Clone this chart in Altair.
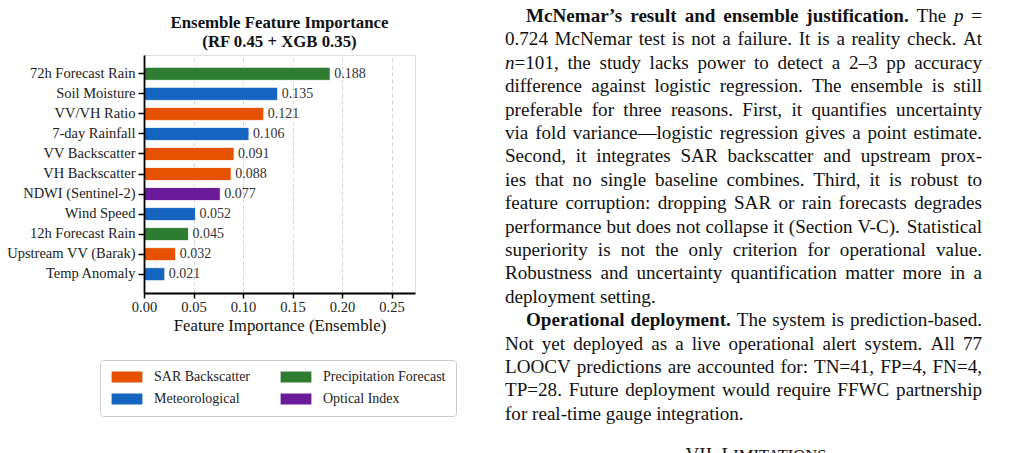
import altair as alt
import pandas as pd

SERIF = "Liberation Serif"

# ---------------------------------------------------------------- chart data
features = ["72h Forecast Rain", "Soil Moisture", "VV/VH Ratio", "7-day Rainfall",
            "VV Backscatter", "VH Backscatter", "NDWI (Sentinel-2)", "Wind Speed",
            "12h Forecast Rain", "Upstream VV (Barak)", "Temp Anomaly"]
importance = [0.188, 0.135, 0.121, 0.106, 0.091, 0.088, 0.077, 0.052, 0.045, 0.032, 0.021]
groups = ["Precipitation Forecast", "Meteorological", "SAR Backscatter", "Meteorological",
          "SAR Backscatter", "SAR Backscatter", "Optical Index", "Meteorological",
          "Precipitation Forecast", "SAR Backscatter", "Meteorological"]
# legend fills column by column
group_order = ["SAR Backscatter", "Meteorological", "Precipitation Forecast", "Optical Index"]
group_colors = ["#E65100", "#1565C0", "#2E7D32", "#6A1B9A"]
x_ticks = [0.0, 0.05, 0.10, 0.15, 0.20, 0.25]
x_max = 0.2737
chart_title = ["Ensemble Feature Importance", "(RF 0.45 + XGB 0.35)"]
x_title = "Feature Importance (Ensemble)"

# ---------------------------------------------------------------- body text
body_lines = [
    "**McNemar’s result and ensemble justification.** The _p_ =",
    "0.724 McNemar test is not a failure. It is a reality check. At",
    "_n_=101, the study lacks power to detect a 2–3 pp accuracy",
    "difference against logistic regression. The ensemble is still",
    "preferable for three reasons. First, it quantifies uncertainty",
    "via fold variance—logistic regression gives a point estimate.",
    "Second, it integrates SAR backscatter and upstream prox-",
    "ies that no single baseline combines. Third, it is robust to",
    "feature corruption: dropping SAR or rain forecasts degrades",
    "performance but does not collapse it (Section V-C). Statistical",
    "superiority is not the only criterion for operational value.",
    "Robustness and uncertainty quantification matter more in a",
    "deployment setting.",
    "**Operational deployment.** The system is prediction-based.",
    "Not yet deployed as a live operational alert system. All 77",
    "LOOCV predictions are accounted for: TN=41, FP=4, FN=4,",
    "TP=28. Future deployment would require FFWC partnership",
    "for real-time gauge integration.",
]
para_starts = [0, 13]
para_ends = [12, 17]
heading_parts = ["VII. L", "IMITATIONS"]

# ---------------------------------------------------------------- layout
PLOT_W, PLOT_H = 271, 238
PAD_L, PAD_T = 144, 55
TOTAL_W, TOTAL_H = 1015, 453

COL_LEFT, COL_RIGHT = 505.0, 982.0
INDENT = 21.0
FS = 19.1
BASE0 = 22.0
LEAD = 23.4
MIN_GAP = 3.0

TITLE_FS = 16.8
TITLE_BASES = [28.0, 46.5]


def _table(spec):
    t = {}
    for chars, w in spec:
        for c in chars:
            t[c] = w
    return t


# Times-compatible advance widths (per 1000 em)
ROMAN = _table([(" ,.", 250), (":;/ijlt", 278), ("!()-[]'’fIr", 333), ("Js", 389),
                ('"', 408), ("?acez", 444), ("0123456789#$*bdghknopquvxy–_", 500),
                ("FPS", 556), ("+<=>", 564), ("ELTZ", 611), ("BCR", 667),
                ("ADGHKNOQUVXYw", 722), ("&m", 778), ("%", 833), ("M", 889),
                ("W", 944), ("—", 1000)])
BOLD = _table([(" ,.", 250), ("il", 278), ("()-:;!fjt’", 333), ("sI", 389),
               ("cerz", 444), ("aogvxy0123456789J", 500), ("bdhknpquS", 556),
               ("=", 570), ("FP", 611), ("BELTZ", 667), ("ACDNRUVXYw", 722),
               ("GHKOQ", 778), ("m", 833), ("M", 944), ("W", 1000)])
ITALIC = _table([(" ,.", 250), ("il", 278), ("npabdghkquvxy", 500)])
TABLES = {"normal": ROMAN, "bold": BOLD, "italic": ITALIC}


def text_width(s, style, size=FS):
    t = TABLES[style]
    return sum(t.get(c, 500) for c in s) * size / 1000.0


def parse_words(line):
    bold = italic = False
    words = []
    for raw in line.split(" "):
        segs = []
        cur, cur_style = "", None
        i = 0
        while i < len(raw):
            if raw.startswith("**", i):
                bold = not bold
                i += 2
                continue
            if raw[i] == "_":
                italic = not italic
                i += 1
                continue
            style = "bold" if bold else ("italic" if italic else "normal")
            if style != cur_style and cur:
                segs.append((cur, cur_style))
                cur = ""
            cur_style = style
            cur += raw[i]
            i += 1
        if cur:
            segs.append((cur, cur_style))
        words.append(segs)
    return words


rows = []
for i, line in enumerate(body_lines):
    words = parse_words(line)
    widths = [sum(text_width(s, st) for s, st in w) for w in words]
    start = COL_LEFT + (INDENT if i in para_starts else 0.0)
    if i in para_ends:
        gap = text_width(" ", "normal")
    else:
        gap = max(MIN_GAP, (COL_RIGHT - start - sum(widths)) / (len(words) - 1))
    base = BASE0 + i * LEAD
    x = start
    for k, (w, ww) in enumerate(zip(words, widths)):
        last = (k == len(words) - 1) and (i not in para_ends)
        if last and len(w) == 1:
            rows.append(dict(x=COL_RIGHT - PAD_L, y=base - PAD_T, text=w[0][0],
                             style=w[0][1], align="right", fs=FS))
        else:
            sx = (COL_RIGHT - ww) if last else x
            for s, st in w:
                rows.append(dict(x=sx - PAD_L, y=base - PAD_T, text=s, style=st,
                                 align="left", fs=FS))
                sx += text_width(s, st)
        x += ww + gap

# section heading in small caps
head_sizes = [FS, 16.5]
head_w = [text_width(p, "normal", s) for p, s in zip(heading_parts, head_sizes)]
hx = 757.5 - sum(head_w) / 2
for p, s, w in zip(heading_parts, head_sizes, head_w):
    rows.append(dict(x=hx - PAD_L, y=461.0 - PAD_T, text=p, style="normal",
                     align="left", fs=s))
    hx += w

# two-line bold chart title, centred over the plot area
for t, b in zip(chart_title, TITLE_BASES):
    rows.append(dict(x=PLOT_W / 2, y=b - PAD_T, text=t, style="bold",
                     align="center", fs=TITLE_FS))

text_df = pd.DataFrame(rows)

# ---------------------------------------------------------------- chart
df = pd.DataFrame({"feature": features, "importance": importance, "group": groups})

y_scale = alt.Scale(paddingInner=0.35, paddingOuter=0.615)
y_enc = alt.Y("feature:N", sort=features, scale=y_scale,
              axis=alt.Axis(title=None, labelFont=SERIF, labelFontSize=14.5,
                            labelColor="#222222", labelPadding=3, tickSize=6,
                            tickWidth=1.5, tickColor="black", domainColor="black",
                            domainWidth=1.8, grid=False, zindex=1))
x_scale = alt.Scale(domain=[0, x_max], nice=False, zero=True)

bars = alt.Chart(df).mark_bar(stroke="white", strokeWidth=0.8).encode(
    y=y_enc,
    x=alt.X("importance:Q", scale=x_scale,
            axis=alt.Axis(title=x_title, values=x_ticks, format=".2f",
                          labelFont=SERIF, labelFontSize=14.5, labelColor="#222222",
                          labelPadding=2, labelFlush=False, tickSize=5,
                          tickWidth=1.5, tickColor="black", domainColor="black",
                          domainWidth=1.8, titleFont=SERIF, titleFontSize=16.8,
                          titleFontWeight="normal", titleColor="#111111",
                          titlePadding=4, grid=True, gridDash=[4, 3],
                          gridColor="#d4d4d4", gridWidth=1)),
    color=alt.Color("group:N",
                    scale=alt.Scale(domain=group_order, range=group_colors),
                    legend=alt.Legend(title=None, orient="none",
                                      legendX=-44, legendY=305, columns=2,
                                      symbolType="M-2.8,-1L2.8,-1L2.8,1L-2.8,1Z",
                                      symbolSize=121, symbolStrokeWidth=0,
                                      symbolOffset=10, labelOffset=20,
                                      labelFont=SERIF, labelFontSize=14,
                                      labelColor="#222222", padding=10,
                                      columnPadding=28, rowPadding=8,
                                      strokeColor="#cccccc", cornerRadius=3,
                                      fillColor="white")),
)

labels = alt.Chart(df).mark_text(align="left", baseline="middle", dx=4, font=SERIF,
                                 fontSize=14, color="#333333").encode(
    y=alt.Y("feature:N", sort=features, scale=y_scale),
    x=alt.X("importance:Q", scale=x_scale),
    text=alt.Text("importance:Q", format=".3f"),
)

text_layers = []
for (style, align), sub in text_df.groupby(["style", "align"]):
    mk = dict(font=SERIF, align=align, baseline="alphabetic", color="#111111")
    if style == "bold":
        mk["fontWeight"] = "bold"
    if style == "italic":
        mk["fontStyle"] = "italic"
    text_layers.append(
        alt.Chart(sub).mark_text(**mk).encode(
            x=alt.X("x:Q", scale=None, axis=None),
            y=alt.Y("y:Q", scale=None, axis=None),
            size=alt.Size("fs:Q", scale=None, legend=None),
            text="text:N",
        )
    )

chart = alt.layer(alt.layer(bars, labels), *text_layers).resolve_scale(
    x="independent", y="independent", size="independent"
).properties(
    width=PLOT_W, height=PLOT_H,
    padding={"left": PAD_L, "top": PAD_T, "right": TOTAL_W - PAD_L - PLOT_W,
             "bottom": TOTAL_H - PAD_T - PLOT_H},
    autosize=alt.AutoSizeParams(type="none"),
).configure_view(stroke=None).configure(background="white")

chart.save("out.html", embed_options={"renderer": "svg", "actions": False})
